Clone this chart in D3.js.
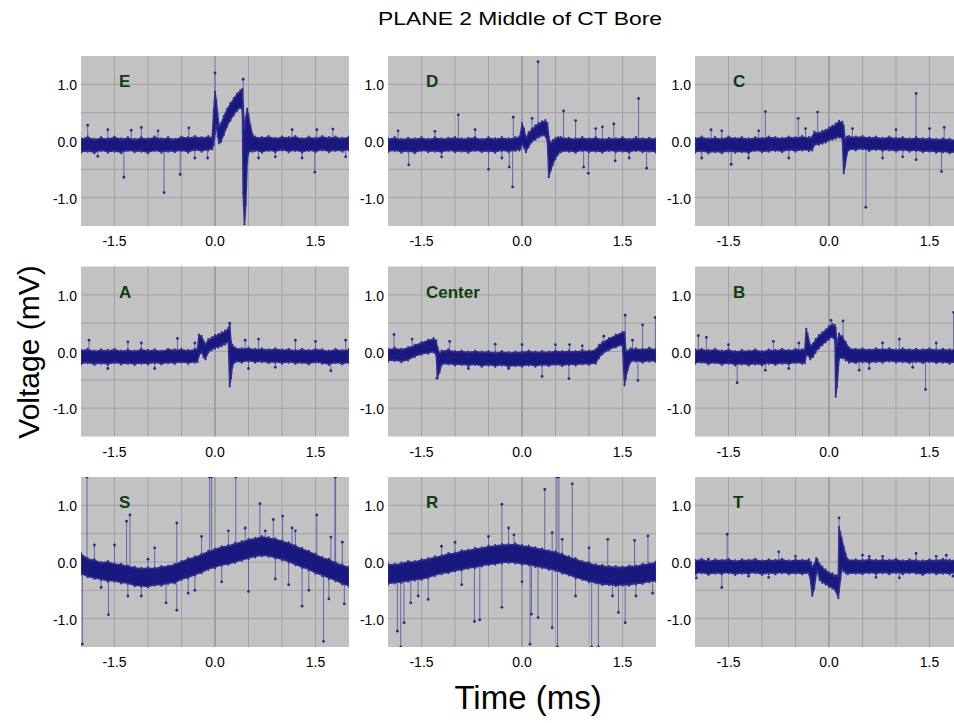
<!DOCTYPE html>
<html>
<head>
<meta charset="utf-8">
<script src="https://cdn.jsdelivr.net/npm/d3@7"></script>
<style>
  body { margin: 0; background: #fff; }
  svg { font-family: "Liberation Sans", Arial, sans-serif; display: block; }
</style>
</head>
<body>
<div id="chart"></div>
<script>
// panel names, in reading order
const panelNames = ["E", "D", "C", "A", "Center", "B", "S", "R", "T"];

const xTicks = [-1.5, 0.0, 1.5];
const yTicks = [1.0, 0.0, -1.0];
const xGrid = [-1.5, -1.0, -0.5, 0.0, 0.5, 1.0, 1.5];
const yGrid = [-1.0, -0.5, 0.0, 0.5, 1.0];

// noise band of each trace: [time ms, low mV, high mV]
const envE = [[-2.0,-0.19,0.03],[-1.9,-0.17,0.06],[-1.8,-0.2,0.02],[-1.7,-0.16,0.05],[-1.6,-0.19,0.03],[-1.5,-0.17,0.06],[-1.4,-0.2,0.03],[-1.3,-0.16,0.05],[-1.2,-0.18,0.02],[-1.1,-0.17,0.05],[-1.0,-0.2,0.03],[-0.9,-0.16,0.06],[-0.8,-0.19,0.03],[-0.7,-0.17,0.05],[-0.6,-0.18,0.02],[-0.5,-0.16,0.06],[-0.4,-0.19,0.05],[-0.3,-0.15,0.07],[-0.2,-0.17,0.05],[-0.1,-0.15,0.07],[-0.04,-0.13,0.05],
  [-0.02,-0.05,0.5],[0.0,0.15,0.85],[0.02,0.3,0.7],[0.04,0.1,0.45],[0.06,-0.02,0.25],[0.09,0.0,0.3],[0.13,0.12,0.42],[0.18,0.27,0.55],[0.23,0.38,0.65],[0.28,0.47,0.74],[0.33,0.55,0.82],[0.38,0.6,0.88],[0.41,0.55,0.9],[0.42,-0.9,0.6],[0.44,-1.45,0.2],[0.46,-1.1,0.4],[0.48,-0.35,0.55],[0.5,-0.2,0.45],[0.53,-0.16,0.25],[0.56,-0.17,0.1],
  [0.6,-0.16,0.06],[0.7,-0.19,0.05],[0.8,-0.16,0.07],[0.9,-0.18,0.04],[1.0,-0.15,0.06],[1.1,-0.18,0.05],[1.2,-0.16,0.07],[1.3,-0.19,0.03],[1.4,-0.16,0.06],[1.5,-0.18,0.04],[1.6,-0.15,0.07],[1.7,-0.18,0.05],[1.8,-0.16,0.06],[1.9,-0.17,0.04],[2.0,-0.15,0.06]];
const envD = [[-2.0,-0.18,0.03],[-1.9,-0.16,0.05],[-1.8,-0.19,0.02],[-1.7,-0.17,0.04],[-1.6,-0.2,0.03],[-1.5,-0.16,0.05],[-1.4,-0.18,0.02],[-1.3,-0.17,0.05],[-1.2,-0.19,0.03],[-1.1,-0.16,0.04],[-1.0,-0.18,0.05],[-0.9,-0.17,0.03],[-0.8,-0.19,0.04],[-0.7,-0.16,0.05],[-0.6,-0.18,0.02],[-0.5,-0.17,0.05],[-0.4,-0.19,0.03],[-0.3,-0.16,0.05],[-0.2,-0.18,0.03],[-0.1,-0.16,0.05],[-0.04,-0.15,0.06],
  [-0.02,-0.12,0.12],[0.0,-0.05,0.3],[0.03,-0.1,0.2],[0.06,-0.18,0.04],[0.1,-0.09,0.14],[0.15,0.0,0.2],[0.2,0.04,0.26],[0.25,0.08,0.3],[0.3,0.11,0.33],[0.35,0.1,0.35],[0.38,0.0,0.3],[0.4,-0.62,0.05],[0.43,-0.5,-0.05],[0.46,-0.4,0.0],[0.5,-0.3,0.04],[0.54,-0.22,0.05],[0.58,-0.18,0.05],
  [0.7,-0.17,0.04],[0.8,-0.19,0.03],[0.9,-0.16,0.05],[1.0,-0.18,0.03],[1.1,-0.17,0.05],[1.2,-0.19,0.02],[1.3,-0.16,0.04],[1.4,-0.18,0.03],[1.5,-0.17,0.05],[1.6,-0.19,0.02],[1.7,-0.16,0.05],[1.8,-0.18,0.03],[1.9,-0.17,0.04],[2.0,-0.19,0.03]];
const envC = [[-2.0,-0.19,0.04],[-1.9,-0.17,0.06],[-1.8,-0.2,0.03],[-1.7,-0.18,0.05],[-1.6,-0.2,0.03],[-1.5,-0.17,0.06],[-1.4,-0.19,0.04],[-1.3,-0.18,0.05],[-1.2,-0.2,0.03],[-1.1,-0.16,0.05],[-1.0,-0.18,0.04],[-0.9,-0.17,0.06],[-0.8,-0.16,0.05],[-0.7,-0.18,0.04],[-0.6,-0.15,0.06],[-0.5,-0.17,0.05],[-0.4,-0.15,0.07],[-0.3,-0.16,0.05],[-0.25,-0.15,0.06],
  [-0.22,-0.06,0.15],[-0.15,-0.05,0.13],[-0.1,-0.03,0.16],[-0.05,-0.01,0.18],[0.0,0.02,0.22],[0.05,0.04,0.25],[0.1,0.06,0.29],[0.15,0.08,0.34],[0.2,0.05,0.32],[0.22,-0.55,0.25],[0.24,-0.42,0.02],[0.27,-0.2,0.06],[0.3,-0.14,0.07],
  [0.4,-0.15,0.06],[0.5,-0.13,0.07],[0.6,-0.16,0.05],[0.7,-0.14,0.06],[0.8,-0.16,0.04],[0.9,-0.15,0.06],[1.0,-0.17,0.04],[1.1,-0.15,0.05],[1.2,-0.17,0.03],[1.3,-0.16,0.05],[1.4,-0.18,0.03],[1.5,-0.17,0.04],[1.6,-0.19,0.02],[1.7,-0.18,0.03],[1.8,-0.2,0.02],[1.9,-0.19,0.01],[2.0,-0.21,0.01]];
const envA = [[-2.0,-0.21,0.01],[-1.9,-0.19,0.03],[-1.8,-0.22,0.0],[-1.7,-0.2,0.02],[-1.6,-0.22,0.01],[-1.5,-0.19,0.03],[-1.4,-0.21,0.0],[-1.3,-0.2,0.02],[-1.2,-0.22,0.0],[-1.1,-0.2,0.03],[-1.0,-0.21,0.01],[-0.9,-0.19,0.02],[-0.8,-0.21,0.0],[-0.7,-0.19,0.03],[-0.6,-0.2,0.02],[-0.5,-0.18,0.03],[-0.4,-0.2,0.01],[-0.3,-0.18,0.03],[-0.26,-0.17,0.04],
  [-0.24,-0.06,0.28],[-0.2,0.0,0.26],[-0.17,-0.09,0.17],[-0.14,-0.12,0.12],[-0.1,0.0,0.2],[-0.05,0.04,0.23],[0.0,0.07,0.27],[0.05,0.09,0.29],[0.1,0.11,0.32],[0.15,0.14,0.35],[0.2,0.18,0.4],[0.22,-0.6,0.45],[0.24,-0.45,0.15],[0.26,-0.25,0.1],[0.3,-0.17,0.05],
  [0.4,-0.18,0.04],[0.5,-0.16,0.05],[0.6,-0.18,0.03],[0.7,-0.17,0.04],[0.8,-0.19,0.02],[0.9,-0.18,0.04],[1.0,-0.2,0.02],[1.1,-0.18,0.03],[1.2,-0.2,0.01],[1.3,-0.19,0.03],[1.4,-0.21,0.01],[1.5,-0.18,0.03],[1.6,-0.2,0.02],[1.7,-0.22,0.0],[1.8,-0.19,0.03],[1.9,-0.21,0.01],[2.0,-0.19,0.03]];
const envCenter = [[-2.0,-0.16,0.03],[-1.9,-0.15,0.05],[-1.8,-0.17,0.03],[-1.7,-0.14,0.06],[-1.6,-0.08,0.1],[-1.5,-0.04,0.15],[-1.4,-0.02,0.19],[-1.32,0.0,0.22],[-1.28,-0.05,0.18],[-1.26,-0.45,0.05],[-1.23,-0.35,-0.04],[-1.2,-0.22,0.0],
  [-1.1,-0.21,0.02],[-1.0,-0.23,-0.01],[-0.9,-0.22,0.0],[-0.8,-0.24,-0.02],[-0.7,-0.22,0.0],[-0.6,-0.25,-0.02],[-0.5,-0.23,-0.01],[-0.4,-0.25,-0.03],[-0.3,-0.23,-0.01],[-0.2,-0.26,-0.03],[-0.1,-0.24,-0.02],[0.0,-0.25,-0.02],[0.1,-0.23,0.0],[0.2,-0.25,-0.02],[0.3,-0.23,-0.01],[0.4,-0.24,-0.02],[0.5,-0.22,0.0],[0.6,-0.24,-0.01],[0.7,-0.22,0.0],[0.8,-0.23,-0.01],[0.9,-0.21,0.01],[1.0,-0.22,0.0],[1.1,-0.2,0.02],
  [1.15,-0.1,0.1],[1.2,-0.03,0.15],[1.3,0.04,0.22],[1.4,0.09,0.28],[1.5,0.12,0.33],[1.53,-0.58,0.32],[1.55,-0.45,0.0],[1.58,-0.3,0.0],[1.62,-0.17,0.04],[1.7,-0.16,0.04],[1.8,-0.18,0.03],[1.9,-0.16,0.05],[2.0,-0.17,0.03]];
const envB = [[-2.0,-0.2,0.02],[-1.9,-0.18,0.03],[-1.8,-0.21,0.01],[-1.7,-0.19,0.03],[-1.6,-0.22,0.0],[-1.5,-0.2,0.02],[-1.4,-0.23,-0.01],[-1.3,-0.21,0.01],[-1.2,-0.23,0.0],[-1.1,-0.21,0.02],[-1.0,-0.23,-0.01],[-0.9,-0.2,0.02],[-0.8,-0.22,0.01],[-0.7,-0.2,0.03],[-0.6,-0.21,0.01],[-0.5,-0.19,0.03],[-0.4,-0.2,0.02],[-0.36,-0.19,0.03],
  [-0.34,-0.05,0.38],[-0.32,-0.05,0.3],[-0.28,-0.12,0.1],[-0.24,-0.08,0.12],[-0.2,0.0,0.2],[-0.15,0.07,0.27],[-0.1,0.13,0.32],[-0.05,0.18,0.37],[0.0,0.23,0.43],[0.05,0.27,0.47],[0.09,0.2,0.45],[0.1,-0.78,0.4],[0.12,-0.6,0.1],[0.15,-0.12,0.3],[0.2,-0.1,0.25],[0.25,-0.14,0.15],[0.3,-0.18,0.05],
  [0.4,-0.19,0.03],[0.5,-0.17,0.04],[0.6,-0.19,0.02],[0.7,-0.17,0.04],[0.8,-0.18,0.03],[0.9,-0.16,0.04],[1.0,-0.18,0.02],[1.1,-0.17,0.04],[1.2,-0.19,0.02],[1.3,-0.17,0.03],[1.4,-0.19,0.02],[1.5,-0.17,0.04],[1.6,-0.19,0.02],[1.7,-0.18,0.03],[1.8,-0.2,0.02],[1.9,-0.18,0.03],[2.0,-0.2,0.02]];
const envS = [[-2.0,-0.2,0.14],[-1.9,-0.25,0.05],[-1.8,-0.28,0.03],[-1.7,-0.3,-0.02],[-1.6,-0.33,0.0],[-1.5,-0.33,-0.04],[-1.4,-0.36,-0.05],[-1.3,-0.37,-0.08],[-1.2,-0.41,-0.1],[-1.1,-0.42,-0.12],[-1.0,-0.43,-0.11],[-0.9,-0.4,-0.12],[-0.8,-0.4,-0.09],[-0.7,-0.37,-0.08],[-0.6,-0.36,-0.05],[-0.5,-0.3,0.0],[-0.4,-0.27,0.05],[-0.3,-0.22,0.08],[-0.2,-0.18,0.13],[-0.1,-0.12,0.18],
  [0.0,-0.09,0.22],[0.1,-0.05,0.26],[0.2,-0.03,0.28],[0.3,0.0,0.32],[0.4,0.04,0.35],[0.5,0.07,0.39],[0.6,0.1,0.41],[0.7,0.12,0.44],[0.8,0.11,0.42],[0.9,0.08,0.4],[1.0,0.05,0.36],[1.1,0.01,0.33],[1.2,-0.04,0.28],[1.3,-0.09,0.23],[1.4,-0.13,0.18],[1.5,-0.19,0.13],[1.6,-0.23,0.07],[1.7,-0.28,0.04],[1.8,-0.32,-0.02],[1.9,-0.38,-0.06],[2.0,-0.42,-0.1]];
const envR = [[-2.0,-0.38,-0.05],[-1.9,-0.36,-0.05],[-1.8,-0.35,-0.03],[-1.7,-0.33,0.0],[-1.6,-0.31,0.0],[-1.5,-0.3,0.03],[-1.4,-0.27,0.05],[-1.3,-0.23,0.08],[-1.2,-0.2,0.1],[-1.1,-0.18,0.14],[-1.0,-0.15,0.15],[-0.9,-0.13,0.19],[-0.8,-0.1,0.2],[-0.7,-0.09,0.23],[-0.6,-0.06,0.24],[-0.5,-0.04,0.27],[-0.4,-0.03,0.28],[-0.3,-0.01,0.3],[-0.2,0.0,0.3],[-0.1,-0.01,0.31],
  [0.0,-0.03,0.28],[0.1,-0.04,0.27],[0.2,-0.07,0.24],[0.3,-0.09,0.22],[0.4,-0.12,0.19],[0.5,-0.14,0.17],[0.6,-0.19,0.13],[0.7,-0.22,0.08],[0.8,-0.27,0.05],[0.9,-0.3,0.0],[1.0,-0.34,-0.02],[1.1,-0.36,-0.06],[1.2,-0.39,-0.07],[1.3,-0.39,-0.09],[1.4,-0.41,-0.09],[1.5,-0.4,-0.1],[1.6,-0.4,-0.08],[1.7,-0.38,-0.08],[1.8,-0.37,-0.05],[1.9,-0.34,-0.04],[2.0,-0.33,-0.01]];
const envT = [[-2.0,-0.2,0.02],[-1.9,-0.18,0.04],[-1.8,-0.21,0.01],[-1.7,-0.19,0.03],[-1.6,-0.2,0.02],[-1.5,-0.18,0.04],[-1.4,-0.21,0.01],[-1.3,-0.19,0.03],[-1.2,-0.2,0.02],[-1.1,-0.18,0.04],[-1.0,-0.21,0.01],[-0.9,-0.19,0.03],[-0.8,-0.2,0.02],[-0.7,-0.18,0.04],[-0.6,-0.2,0.01],[-0.5,-0.19,0.03],[-0.4,-0.2,0.02],[-0.3,-0.19,0.03],
  [-0.27,-0.35,-0.02],[-0.25,-0.58,-0.1],[-0.22,-0.45,-0.05],[-0.19,-0.2,0.05],[-0.17,-0.15,0.02],[-0.14,-0.3,-0.05],[-0.1,-0.35,-0.1],[-0.05,-0.38,-0.15],[0.0,-0.42,-0.2],[0.05,-0.45,-0.22],[0.1,-0.5,-0.25],[0.14,-0.62,-0.25],[0.15,-0.5,0.6],[0.17,-0.3,0.5],[0.19,-0.12,0.4],[0.22,-0.15,0.25],[0.25,-0.18,0.12],[0.28,-0.2,0.03],
  [0.4,-0.19,0.03],[0.5,-0.2,0.02],[0.6,-0.18,0.04],[0.7,-0.2,0.02],[0.8,-0.18,0.03],[0.9,-0.2,0.02],[1.0,-0.18,0.04],[1.1,-0.2,0.01],[1.2,-0.18,0.03],[1.3,-0.19,0.02],[1.4,-0.21,0.01],[1.5,-0.18,0.03],[1.6,-0.2,0.02],[1.7,-0.19,0.04],[1.8,-0.2,0.02],[1.9,-0.18,0.03],[2.0,-0.2,0.02]];

// single outlying samples: [time ms, mV]
const spikesE = [[-1.9,0.28],[-1.36,-0.64],[-1.1,0.24],[-0.76,-0.91],[-0.52,-0.59],[-0.39,0.23],[-0.11,-0.3],[0.0,1.2],[0.42,1.09],[1.49,-0.55],[1.52,0.2],[1.76,0.21],[-1.6,0.2],[-0.85,0.18],[-0.3,-0.3],[0.9,-0.28],[1.15,0.2],[-1.75,-0.27],[0.65,-0.3],[1.95,-0.28],[1.3,-0.3],[-1.25,0.19]];
const spikesD = [[-1.69,-0.42],[-0.95,0.46],[-0.5,-0.5],[-0.19,-0.46],[-0.14,-0.81],[-0.13,0.42],[0.15,0.4],[0.24,1.4],[0.62,0.53],[0.8,0.36],[0.92,-0.46],[0.99,-0.57],[1.37,0.3],[1.39,-0.35],[1.74,0.75],[1.86,-0.48],[-1.85,0.18],[-1.3,0.17],[-1.2,-0.28],[-0.7,0.2],[1.1,0.22],[1.6,-0.3],[-0.3,-0.3],[1.2,0.25]];
const spikesC = [[-1.76,0.2],[-1.46,-0.41],[-0.95,0.52],[-0.46,0.4],[-0.17,0.51],[0.55,-1.17],[1.3,0.84],[1.3,-0.33],[1.68,-0.54],[1.72,0.24],[-1.2,-0.3],[-1.05,0.18],[-0.6,-0.3],[-0.35,0.22],[0.35,0.22],[0.8,-0.3],[1.0,0.2],[1.1,-0.28],[1.5,0.22],[-1.9,-0.3],[-1.6,0.18]];
const spikesA = [[-1.88,0.2],[-1.6,-0.3],[-1.3,0.17],[-0.56,0.23],[-0.9,-0.3],[0.22,0.5],[0.45,0.2],[0.65,0.22],[0.9,-0.28],[1.2,0.2],[1.73,-0.34],[1.95,0.2],[-0.3,0.15],[-1.1,0.15],[0.5,-0.3],[1.5,0.18]];
const spikesCenter = [[-1.91,0.3],[-1.64,0.22],[-1.27,-0.47],[-1.08,0.18],[-0.4,0.13],[0.0,0.12],[0.3,-0.44],[0.7,-0.48],[0.71,0.12],[1.22,0.27],[1.54,0.64],[1.73,-0.51],[1.8,0.47],[1.99,0.6],[-0.8,-0.3],[0.5,0.12],[-0.2,-0.3],[0.9,0.1],[1.65,0.2]];
const spikesB = [[-1.95,0.28],[-1.83,0.25],[-1.37,-0.55],[-0.95,-0.33],[-0.83,0.18],[-0.6,-0.3],[0.21,0.54],[0.03,0.55],[0.45,-0.33],[0.6,-0.3],[1.05,0.22],[1.44,-0.67],[1.86,0.69],[-1.5,0.12],[0.8,0.15],[1.6,0.15],[1.25,-0.28],[-0.45,0.15]];
const spikesS = [[-1.98,-1.45],[-1.91,1.5],[-1.59,-0.93],[-1.32,0.72],[-1.27,0.83],[-1.3,-0.6],[-0.57,0.69],[-0.57,-0.85],[-0.08,1.5],[-0.05,1.5],[0.31,1.5],[0.67,1.03],[1.01,0.81],[1.52,0.83],[1.62,-1.4],[1.79,1.5],[1.8,1.5],[1.73,0.44],[1.3,-0.78],[0.5,-0.52],[-0.73,-0.72],[1.93,-0.74],[0.87,0.75],[-1.7,-0.45],[-1.5,0.3],[-1.1,-0.6],[-0.9,0.25],[-0.4,-0.55],[-0.2,0.45],[0.1,-0.35],[0.45,0.6],[0.9,-0.3],[1.15,0.6],[1.4,-0.5],[1.9,0.35],[-1.8,0.3],[-0.3,-0.5],[0.2,0.55],[1.1,-0.4],[-1.0,0.05],[1.7,-0.65],[0.75,0.55],[1.2,0.55]];
const spikesR = [[-1.86,-1.22],[-1.81,-1.5],[-1.76,-1.07],[-1.66,-0.72],[-1.4,-0.66],[-0.71,-1.05],[-0.63,-1.02],[-0.3,1.02],[-0.3,-0.8],[-0.12,0.48],[0.12,-1.45],[0.14,-0.92],[0.24,-0.98],[0.34,1.28],[0.45,-1.16],[0.52,1.5],[0.55,1.5],[0.53,-1.5],[0.75,1.38],[1.04,-1.5],[1.14,-1.5],[1.44,-0.89],[1.54,-1.07],[1.88,0.46],[1.68,0.38],[1.28,0.4],[0.45,0.52],[-0.5,0.45],[-0.2,0.6],[-0.9,-0.4],[-1.2,0.28],[-1.55,-0.6],[0.8,-0.6],[1.0,0.25],[1.7,-0.6],[1.95,-0.55],[-1.0,0.35],[0.0,-0.35],[0.6,0.4],[1.35,-0.6]];
const spikesT = [[-1.6,-0.45],[-1.52,0.49],[-1.98,-0.28],[-1.2,-0.25],[-0.9,-0.27],[-0.75,0.18],[-0.5,0.1],[0.5,0.12],[0.8,0.1],[1.05,-0.28],[1.3,0.15],[1.6,0.1],[-1.8,0.05],[0.7,-0.27],[1.85,-0.25],[1.75,0.12],[0.6,0.1],[0.15,0.78]];

const envs = [envE, envD, envC, envA, envCenter, envB, envS, envR, envT];
const spikes = [spikesE, spikesD, spikesC, spikesA, spikesCenter, spikesB, spikesS, spikesR, spikesT];

const W = 954, H = 723;
const colLeft = [81, 388, 695];
const rowTop = [56, 266.5, 477];
const pw = 268, ph = 170;

const svg = d3.select("#chart").append("svg")
    .attr("width", W)
    .attr("height", H);

// title and axis titles
svg.append("text")
    .attr("x", 520).attr("y", 25)
    .attr("text-anchor", "middle")
    .style("font-size", "18px")
    .attr("textLength", 284)
    .attr("lengthAdjust", "spacingAndGlyphs")
    .text("PLANE 2 Middle of CT Bore");

svg.append("text")
    .attr("text-anchor", "middle")
    .attr("transform", "translate(39,352) rotate(-90)")
    .style("font-size", "30px")
    .text("Voltage (mV)");

svg.append("text")
    .attr("x", 528).attr("y", 709)
    .attr("text-anchor", "middle")
    .style("font-size", "33px")
    .text("Time (ms)");

const x = d3.scaleLinear().domain([-2, 2]).range([0, pw]);
const y = d3.scaleLinear().domain([-1.5, 1.5]).range([ph, 0]);
const bisect = d3.bisector(d => d[0]).center;

panelNames.forEach((name, i) => {
  const env = envs[i];
  const g = svg.append("g")
      .attr("transform", `translate(${colLeft[i % 3]},${rowTop[Math.floor(i / 3)]})`);

  g.append("clipPath").attr("id", "clip" + i)
    .append("rect").attr("width", pw).attr("height", ph);

  g.append("rect")
      .attr("width", pw).attr("height", ph)
      .attr("fill", "#c2c2c2");

  // grid
  g.selectAll(".vg").data(xGrid).enter().append("line")
      .attr("x1", d => x(d)).attr("x2", d => x(d))
      .attr("y1", 0).attr("y2", ph)
      .attr("stroke", d => d === 0 ? "#7c7c7c" : "#a2a2a2")
      .attr("stroke-width", 1);
  g.selectAll(".hg").data(yGrid).enter().append("line")
      .attr("x1", 0).attr("x2", pw)
      .attr("y1", d => y(d)).attr("y2", d => y(d))
      .attr("stroke", "#a2a2a2")
      .attr("stroke-width", 1);

  const plot = g.append("g").attr("clip-path", `url(#clip${i})`);

  // outlying samples joined back to the band
  plot.selectAll(".sp").data(spikes[i]).enter().append("line")
      .attr("x1", d => x(d[0])).attr("x2", d => x(d[0]))
      .attr("y1", d => { const e = env[bisect(env, d[0])]; return y((e[1] + e[2]) / 2); })
      .attr("y2", d => y(d[1]))
      .attr("stroke", "#6464aa")
      .attr("stroke-width", 1);
  plot.selectAll(".sd").data(spikes[i]).enter().append("circle")
      .attr("cx", d => x(d[0])).attr("cy", d => y(d[1]))
      .attr("r", 1.4)
      .attr("fill", "#2a2a8c");

  // noise band
  plot.append("path")
      .datum(env)
      .attr("fill", "#18187f")
      .attr("stroke", "#2e2e90")
      .attr("stroke-width", 1.6)
      .attr("stroke-linejoin", "round")
      .attr("d", d3.area()
          .x(d => x(d[0]))
          .y0(d => y(d[1]))
          .y1(d => y(d[2])));

  // band edge samples
  plot.selectAll(".lo").data(env).enter().append("circle")
      .attr("cx", d => x(d[0])).attr("cy", d => y(d[1]) + 1)
      .attr("r", 1.1).attr("fill", "#2c2c8e");
  plot.selectAll(".hi").data(env).enter().append("circle")
      .attr("cx", d => x(d[0])).attr("cy", d => y(d[2]) - 1)
      .attr("r", 1.1).attr("fill", "#2c2c8e");

  // tick labels
  g.selectAll(".yl").data(yTicks).enter().append("text")
      .attr("x", -4).attr("y", d => y(d) + 6)
      .attr("text-anchor", "end")
      .style("font-size", "14px")
      .text(d => d.toFixed(1));
  g.selectAll(".xl").data(xTicks).enter().append("text")
      .attr("x", d => x(d)).attr("y", ph + 20)
      .attr("text-anchor", "middle")
      .style("font-size", "14px")
      .text(d => d.toFixed(1));

  // panel name
  g.append("text")
      .attr("x", 38).attr("y", 31)
      .attr("fill", "#0d3f10")
      .style("font-size", "17px")
      .style("font-weight", "bold")
      .text(name);
});
</script>
</body>
</html>
